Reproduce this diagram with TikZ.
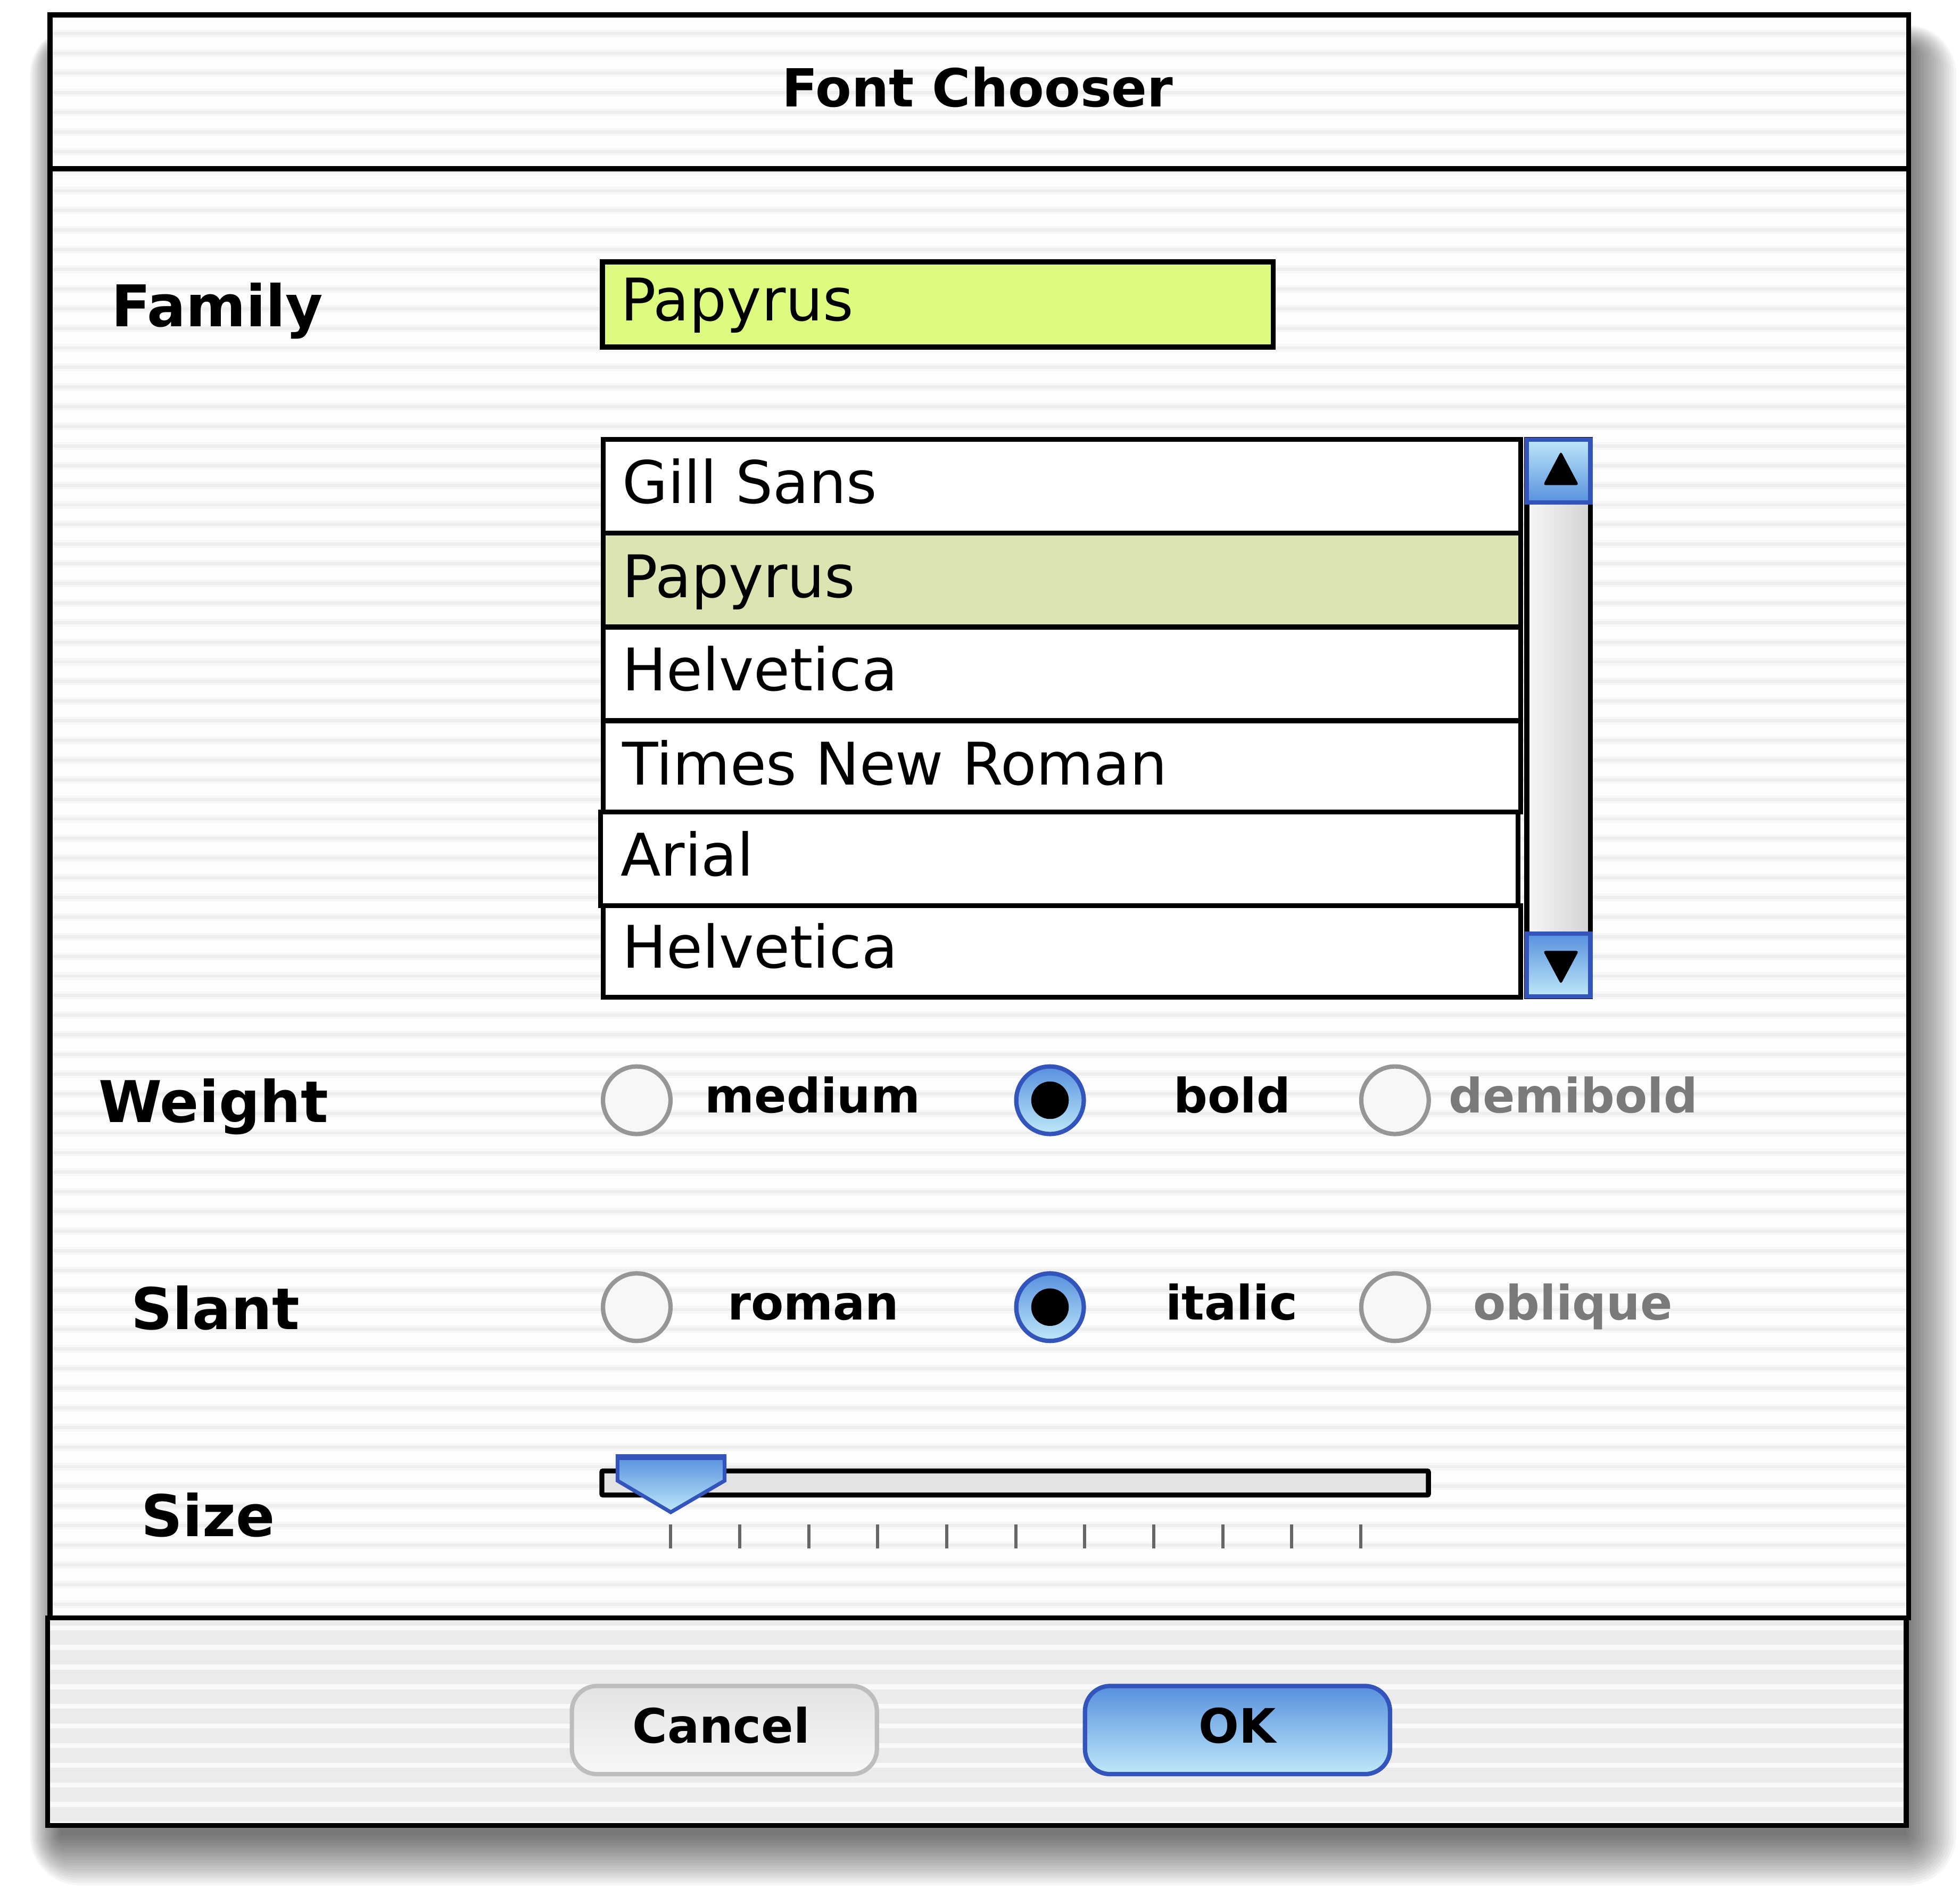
\documentclass[tikz,border=0pt]{standalone}
\usepackage{fontspec}
\setmainfont{DejaVu Sans}
\definecolor{bluebd}{RGB}{51,85,187}
\definecolor{bluetop}{RGB}{88,144,222}
\definecolor{bluebot}{RGB}{190,232,249}
\definecolor{fieldcol}{RGB}{221,251,126}
\definecolor{selrow}{RGB}{220,228,178}
\definecolor{radiogray}{RGB}{150,150,150}
\definecolor{radiofill}{RGB}{247,247,247}
\definecolor{labgray}{RGB}{122,122,122}
\definecolor{cancelbd}{RGB}{189,189,189}
\definecolor{canceltop}{RGB}{227,227,227}
\definecolor{cancelbot}{RGB}{248,248,248}
\definecolor{stripesoft}{RGB}{247,247,247}
\definecolor{stripecore}{RGB}{238,238,238}
\definecolor{bgcol}{RGB}{253,253,253}
\definecolor{footbg}{RGB}{235,235,235}
\definecolor{footstripe}{RGB}{249,249,249}
\definecolor{tickcol}{RGB}{102,102,102}
\definecolor{trackfill}{RGB}{227,227,227}
\definecolor{scrollL}{RGB}{247,247,247}
\definecolor{scrollR}{RGB}{211,211,211}
\tikzset{
  txt/.style={inner sep=0pt, outer sep=0pt},
  biglabel/.style={txt, anchor=base west, font=\fontsize{46}{52}\selectfont\bfseries},
  titletext/.style={txt, anchor=base, font=\fontsize{42}{48}\selectfont\bfseries},
  listtext/.style={txt, anchor=base west, font=\fontsize{47}{52}\selectfont},
  optlabel/.style={txt, anchor=base west, font=\fontsize{38}{44}\selectfont\bfseries},
  btntext/.style={txt, anchor=base, font=\fontsize{38}{44}\selectfont\bfseries},
  frame/.style={draw=black, line width=4pt},
  rowbox/.style={frame, fill=white},
  radiooff/.style={draw=radiogray, line width=3.5pt, fill=radiofill},
  radioon/.style={draw=bluebd, line width=3.5pt, top color=bluetop, bottom color=bluebot},
  bluebtn/.style={draw=bluebd, line width=3.5pt},
  tickmark/.style={draw=tickcol, line width=2.5pt},
}
\begin{document}
\begin{tikzpicture}[x=1pt,y=-1pt]
\useasboundingbox (0,0) rectangle (1568,1509.7);
% drop shadow
\foreach \e in {0,2,...,40}{
  \fill[black,opacity=0.035,rounded corners=\e pt] (48-0.6*\e,40-0.5*\e) rectangle (1525+\e,1468+\e);
}
% window background with stripes
\fill[bgcol] (40,12) rectangle (1527,1460);
\foreach \k in {0,...,91}{
  \draw[stripesoft, line width=6pt] (40,27+15.7*\k) -- (1527,27+15.7*\k);
  \draw[stripecore, line width=2.5pt] (40,27+15.7*\k) -- (1527,27+15.7*\k);
}
% footer background
\fill[footbg] (38,1294) rectangle (1525,1460);
\foreach \k in {0,...,10}{
  \draw[footstripe, line width=4pt] (38,1302+15.7*\k) -- (1525,1302+15.7*\k);
}
% window frames
\draw[frame] (40,12) rectangle (1527,135);
\draw[frame] (40,135) rectangle (1527,1294);
\draw[frame] (38,1294) rectangle (1525,1460);
\node[titletext] (title) at (782,85.4) {Font Chooser};

% Family
\node[biglabel] (famlabel) at (89,261) {Family};
\draw[frame, fill=fieldcol] (482,209.5) rectangle (1018.5,277.5);
\node[listtext] (famfield) at (496.5,256.5) {Papyrus};

% list
\draw[rowbox] (482.5,351.5) rectangle (1216.5,426.5);
\draw[frame, fill=selrow] (482.5,426.5) rectangle (1216.5,501.5);
\draw[rowbox] (482.5,501.5) rectangle (1216.5,576.5);
\draw[rowbox] (482.5,576.5) rectangle (1216.5,649.5);
\draw[rowbox] (482.5,724.5) rectangle (1216.5,797.5);
\draw[rowbox] (480.5,649.5) rectangle (1214.5,724.5);
\node[listtext] (item1) at (498,402.4) {Gill Sans};
\node[listtext] (item2) at (498,478) {Papyrus};
\node[listtext] (item3) at (498,552.5) {Helvetica};
\node[listtext] (item4) at (498,627.8) {Times New Roman};
\node[listtext] (item5) at (496.5,700.5) {Arial};
\node[listtext] (item6) at (498,774) {Helvetica};

% scrollbar
\draw[frame, left color=scrollL, right color=scrollR] (1221.5,351.5) rectangle (1272.3,797);
\draw[bluebtn, top color=bluebot, bottom color=bluetop] (1221.5,351.5) rectangle (1272.3,401.8);
\draw[bluebtn, top color=bluetop, bottom color=bluebot] (1221.5,746.8) rectangle (1272.3,797);
\fill[black, rounded corners=2pt] (1234.5,388) -- (1248.7,361) -- (1263,388) -- cycle;
\fill[black, rounded corners=2pt] (1234.5,760.5) -- (1263,760.5) -- (1248.7,787.2) -- cycle;

% Weight
\node[biglabel] (wlabel) at (79,897.8) {Weight};
\draw[radiooff] (509.4,880) circle[radius=27pt];
\draw[radioon] (840,880) circle[radius=27pt];
\fill[black] (840,880) circle[radius=15pt];
\draw[radiooff] (1116,880) circle[radius=27pt];
\node[optlabel] (wmed) at (564,890) {medium};
\node[optlabel] (wbold) at (939,890) {bold};
\node[optlabel, text=labgray] (wdemi) at (1159,890) {demibold};

% Slant
\node[biglabel] (slabel) at (105,1063.2) {Slant};
\draw[radiooff] (509.4,1045.5) circle[radius=27pt];
\draw[radioon] (840,1045.5) circle[radius=27pt];
\fill[black] (840,1045.5) circle[radius=15pt];
\draw[radiooff] (1116,1045.5) circle[radius=27pt];
\node[optlabel] (sroman) at (582,1055.5) {roman};
\node[optlabel] (sitalic) at (932.5,1055.5) {italic};
\node[optlabel, text=labgray] (sobl) at (1178.5,1055.5) {oblique};

% Size
\node[biglabel] (zlabel) at (113,1228.7) {Size};
\draw[frame, fill=trackfill, rounded corners=1pt] (481.5,1176.5) rectangle (1142.7,1195.8);
\draw[bluebtn, line width=3pt, top color=bluetop, bottom color=bluebot, line join=miter]
  (494,1165) -- (579.7,1165) -- (579.7,1184.3) -- (536.6,1209.5) -- (494,1184.3) -- cycle;
\draw[bluebd, line width=5pt] (492.5,1165.5) -- (581.2,1165.5);
\foreach \k in {0,...,10}{
  \draw[tickmark] (536.6+55.2*\k,1219.5) -- (536.6+55.2*\k,1238.5);
}

% buttons
\draw[draw=cancelbd, line width=3.5pt, top color=canceltop, bottom color=cancelbot, rounded corners=20pt]
  (457.5,1348.5) rectangle (701.5,1419);
\node[btntext] (cancel) at (577,1394) {Cancel};
\draw[bluebtn, top color=bluetop, bottom color=bluebot, rounded corners=20pt]
  (868,1348.5) rectangle (1112,1419);
\node[btntext] (ok) at (990,1394) {OK};
\end{tikzpicture}
\end{document}
